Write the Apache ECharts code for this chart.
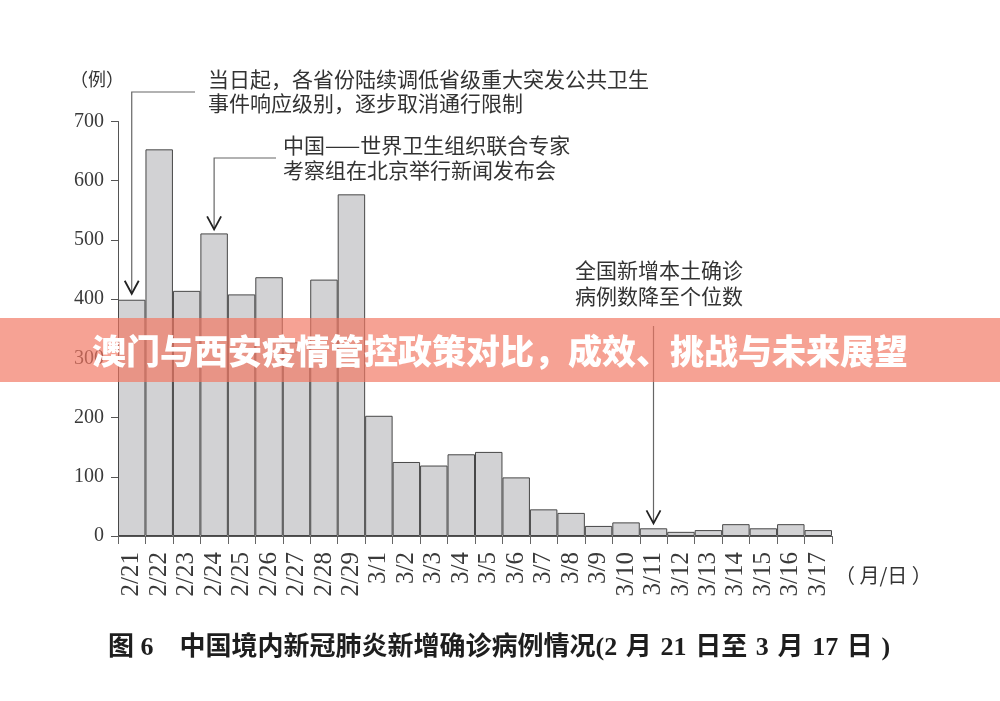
<!DOCTYPE html>
<html><head><meta charset="utf-8">
<script src="https://cdn.jsdelivr.net/npm/echarts@6/dist/echarts.min.js"></script>
<style>html,body{margin:0;padding:0;background:#fff;}#c{width:1000px;height:701px;}</style>
</head><body><div id="c"></div>
<script>
// ---- data ----
const categories = ['2/21','2/22','2/23','2/24','2/25','2/26','2/27','2/28','2/29',
  '3/1','3/2','3/3','3/4','3/5','3/6','3/7','3/8','3/9','3/10','3/11','3/12','3/13','3/14','3/15','3/16','3/17'];
const values = [399, 653, 414, 511, 408, 437, 327, 433, 577,
  203, 125, 119, 138, 142, 99, 45, 39, 17, 23, 13, 7, 10, 20, 13, 20, 10];
const yMin = 0, yMax = 700, yStep = 100;
const yAxisName = '（例）';
const xAxisName = '（ 月/日 ）';
const note1Cat = '2/21';
const note1Lines = ['当日起，各省份陆续调低省级重大突发公共卫生', '事件响应级别，逐步取消通行限制'];
const note2Cat = '2/24';
const note2Lines = ['中国——世界卫生组织联合专家', '考察组在北京举行新闻发布会'];
const note3Cat = '3/11';
const note3Lines = ['全国新增本土确诊', '病例数降至个位数'];
const captionText = '图 6　中国境内新冠肺炎新增确诊病例情况(2\u2004月\u200421\u2004日至\u20043\u2004月\u200417\u2004日\u2004)';
const bannerText = '澳门与西安疫情管控政策对比，成效、挑战与未来展望';

// ---- chart ----
const SERIF = "'Liberation Serif','Noto Sans CJK SC',serif";
const CJK = "'Noto Sans CJK SC','Liberation Serif',sans-serif";
const chart = echarts.init(document.getElementById('c'), null, {renderer: 'canvas'});
chart.setOption({
  animation: false,
  backgroundColor: '#ffffff',
  grid: {left: 118, right: 168, top: 121.5, bottom: 165},
  xAxis: {
    type: 'category',
    data: categories,
    boundaryGap: true,
    axisLine: {show: true, lineStyle: {color: '#555', width: 1}},
    axisTick: {show: true, alignWithLabel: false, length: 8, lineStyle: {color: '#666', width: 1}},
    axisLabel: {rotate: 90, interval: 0, margin: 16, fontFamily: SERIF, fontSize: 25, color: '#3a3a3a'}
  },
  yAxis: {
    type: 'value',
    min: yMin, max: yMax, interval: yStep,
    splitLine: {show: false},
    axisLine: {show: true, lineStyle: {color: '#555', width: 1}},
    axisTick: {show: true, length: 7, lineStyle: {color: '#555', width: 1}},
    axisLabel: {margin: 14, fontFamily: SERIF, fontSize: 20, color: '#3a3a3a'}
  },
  series: [{
    type: 'bar',
    data: values,
    barCategoryGap: '0%',
    itemStyle: {color: '#d2d2d4', borderColor: '#474747', borderWidth: 1}
  }]
});

function px(cat, val) { return chart.convertToPixel({seriesIndex: 0}, [cat, val]); }
const idx = c => categories.indexOf(c);

const g = [];
const lineStyle = {stroke: '#666', lineWidth: 1.2, fill: null};
const headStyle = {stroke: '#222', lineWidth: 1.8, fill: null};
function arrowHead(x, y) {
  return {type: 'polyline', shape: {points: [[x - 7, y - 13], [x, y], [x + 7, y - 13]]}, style: headStyle, z: 10};
}
function textLines(lines, x, y0, lh) {
  lines.forEach((t, i) => g.push({type: 'text', x: x, y: y0 + i * lh,
    style: {text: t, fontFamily: CJK, fontSize: 21, fill: '#333', align: 'left', verticalAlign: 'middle'}, z: 10}));
}

// note 1
(function(){
  const p = px(note1Cat, values[idx(note1Cat)]);
  const tipY = p[1] - 6;
  g.push({type: 'polyline', shape: {points: [[195, 92], [p[0], 92], [p[0], tipY]]}, style: lineStyle, z: 10});
  g.push(arrowHead(p[0], tipY));
  textLines(note1Lines, 208, 79, 24);
})();
// note 2
(function(){
  const p = px(note2Cat, values[idx(note2Cat)]);
  const tipY = p[1] - 4;
  g.push({type: 'polyline', shape: {points: [[276, 158], [p[0], 158], [p[0], tipY]]}, style: lineStyle, z: 10});
  g.push(arrowHead(p[0], tipY));
  textLines(note2Lines, 283, 145, 25);
})();
// note 3
(function(){
  const p = px(note3Cat, values[idx(note3Cat)]);
  const tipY = p[1] - 5;
  g.push({type: 'polyline', shape: {points: [[p[0], 326], [p[0], tipY]]}, style: lineStyle, z: 10});
  g.push(arrowHead(p[0], tipY));
  textLines(note3Lines, 575, 270, 26);
})();

// axis names
g.push({type: 'text', x: 70, y: 79, style: {text: yAxisName, fontFamily: CJK, fontSize: 18, fill: '#333', align: 'left', verticalAlign: 'middle'}, z: 10});
g.push({type: 'text', x: 835, y: 575, style: {text: xAxisName, fontFamily: CJK, fontSize: 20, fill: '#333', align: 'left', verticalAlign: 'middle'}, z: 10});
// caption
g.push({type: 'text', x: 108, y: 648, style: {text: captionText, fontFamily: SERIF, fontWeight: 'bold', fontSize: 26, fill: '#1e1e1e', align: 'left', verticalAlign: 'middle'}, z: 10});
// banner
g.push({type: 'rect', shape: {x: 0, y: 318, width: 1000, height: 64}, style: {fill: 'rgba(242,118,98,0.68)'}, z: 100});
g.push({type: 'text', x: 500, y: 351, style: {text: bannerText, fontFamily: CJK, fontWeight: 900, fontSize: 34, fill: '#ffffff', align: 'center', verticalAlign: 'middle'}, z: 101});

chart.setOption({graphic: {elements: g}});
</script>
</body></html>
